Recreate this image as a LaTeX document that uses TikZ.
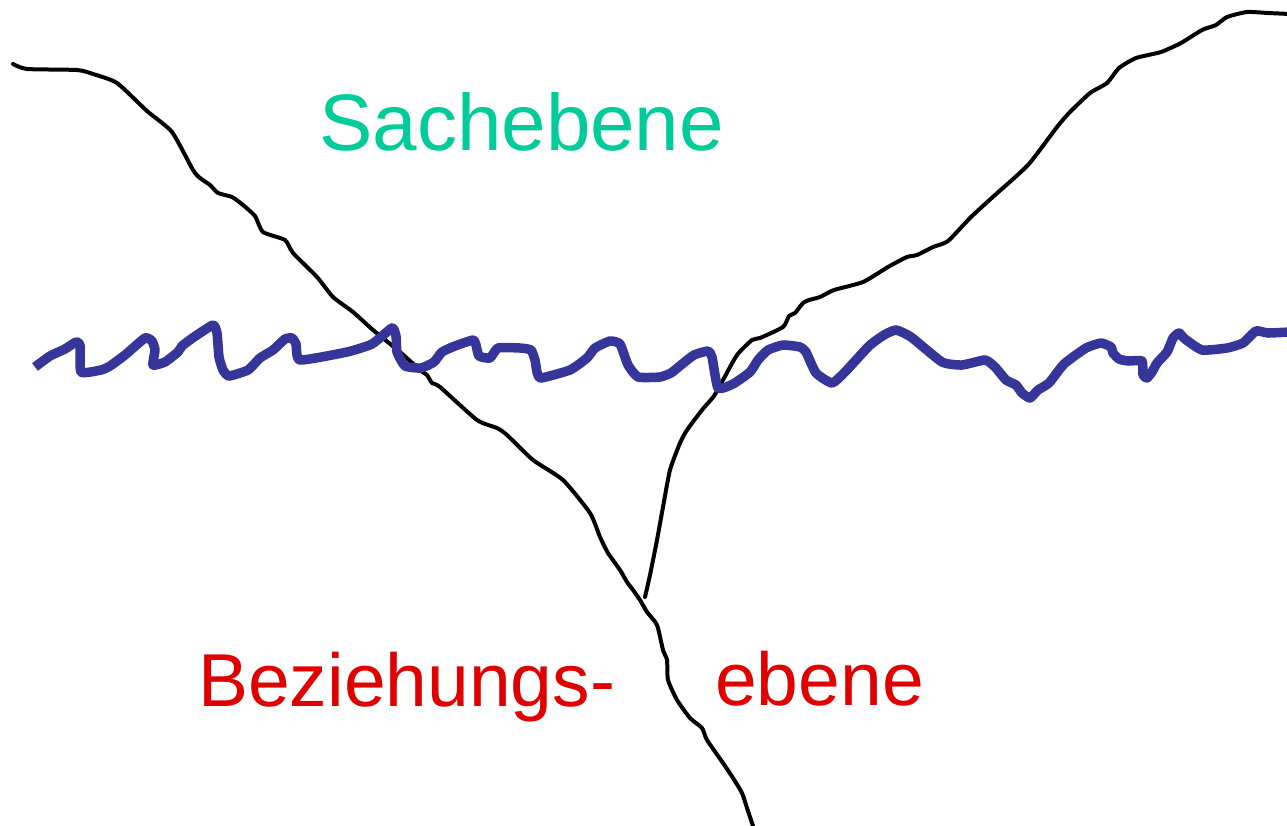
\documentclass[tikz,border=0pt]{standalone}
\usepackage{fontspec}
\setmainfont{Liberation Sans}
\definecolor{sachgreen}{RGB}{0,204,153}
\definecolor{bezred}{RGB}{224,0,0}
\definecolor{waveblue}{RGB}{53,53,154}
\tikzset{
  crack/.style={black, line width=4pt, line join=round, line cap=round},
  wave/.style={waveblue, line width=9.5pt, line join=round, line cap=butt},
  label/.style={inner sep=0pt, anchor=base west},
}
\begin{document}
\begin{tikzpicture}[x=1pt, y=-1pt]
\useasboundingbox (0,0) rectangle (1287,825);

% left crack running from the upper left down to the bottom edge
\draw[crack] plot[smooth, tension=0.35] coordinates {
 (13,64) (27,69) (77,70) (93,74) (117,83) (147,111) (172,132) (193,170)
 (200,178) (210,185) (218,193) (232,197) (243,205) (255,216) (263,232)
 (285,240) (293,253) (317,277) (333,297) (353,312) (373,330) (400,352)
 (420,370) (427,375) (432,383) (440,387) (477,420) (497,428) (507,435)
 (533,460) (563,480) (590,513) (600,537) (608,553) (620,570) (627,582)
 (633,590) (640,600) (647,612) (657,625) (663,650) (667,660) (668,680)
 (677,700) (690,718) (702,728) (707,740) (723,763) (733,778) (742,793)
 (747,808) (753,826)};

% right crack branching off and rising to the upper right
\draw[crack] plot[smooth, tension=0.35] coordinates {
 (645,597) (650,575) (657,540) (663,507) (670,470) (680,443) (687,430)
 (702,410) (714,396) (723,380) (737,355) (752,340) (760,338) (783,327)
 (789,316) (795,313) (803,303) (809,300) (820,297) (834,290) (863,282)
 (888,267) (907,257) (917,255) (933,247) (948,241) (971,217) (995,195)
 (1028,165) (1057,127) (1070,112) (1090,93) (1107,83) (1119,68) (1136,58)
 (1161,52) (1181,43) (1202,30) (1216,25) (1227,17) (1247,12) (1268,13)
 (1290,14)};

% wavy water line separating the two levels
\draw[wave] plot[smooth, tension=0.3] coordinates {
 (35,367) (50,356) (65,349) (76,342) (80,345) (81,372) (101,370) (110,366)
 (125,355) (145,338) (152,341) (155,350) (153,365) (165,362) (178,352)
 (182,346) (194,337) (213,325) (217,333) (219,357) (223,370) (229,376)
 (248,370) (260,358) (273,350) (285,339) (292,338) (296,344) (300,360)
 (347,352) (372,344) (392,328) (396,336) (397,352) (405,366) (421,368)
 (434,362) (442,352) (455,346) (473,340) (476,345) (479,356) (490,358)
 (498,348) (520,348) (531,350) (535,360) (537,372) (541,378) (570,370)
 (587,358) (595,348) (610,341) (620,344) (628,365) (638,377) (660,377)
 (671,373) (681,365) (694,355) (708,351) (712,357) (718,388) (733,384)
 (750,372) (758,360) (768,350) (783,345) (800,347) (806,352) (816,373)
 (832,383) (845,372) (869,346) (884,335) (896,330) (911,337) (942,362)
 (962,365) (985,360) (995,367) (1006,380) (1016,385) (1022,393) (1030,398)
 (1038,390) (1049,383) (1064,364) (1086,348) (1101,343) (1111,347)
 (1113,353) (1119,359) (1128,361) (1142,361) (1143,375) (1147,378)
 (1152,372) (1157,363) (1167,352) (1173,338) (1179,333) (1185,339)
 (1202,350) (1227,348) (1243,343) (1256,331) (1268,333) (1290,332)};

% labels
\node[label, text=sachgreen, font=\fontsize{80}{96}\selectfont] (sach) at (319,150) {Sachebene};
\node[label, text=bezred, font=\fontsize{75}{90}\selectfont] (bez) at (198,706) {Beziehungs-};
\node[label, text=bezred, font=\fontsize{75}{90}\selectfont] (ebene) at (715,705) {ebene};
\end{tikzpicture}
\end{document}
